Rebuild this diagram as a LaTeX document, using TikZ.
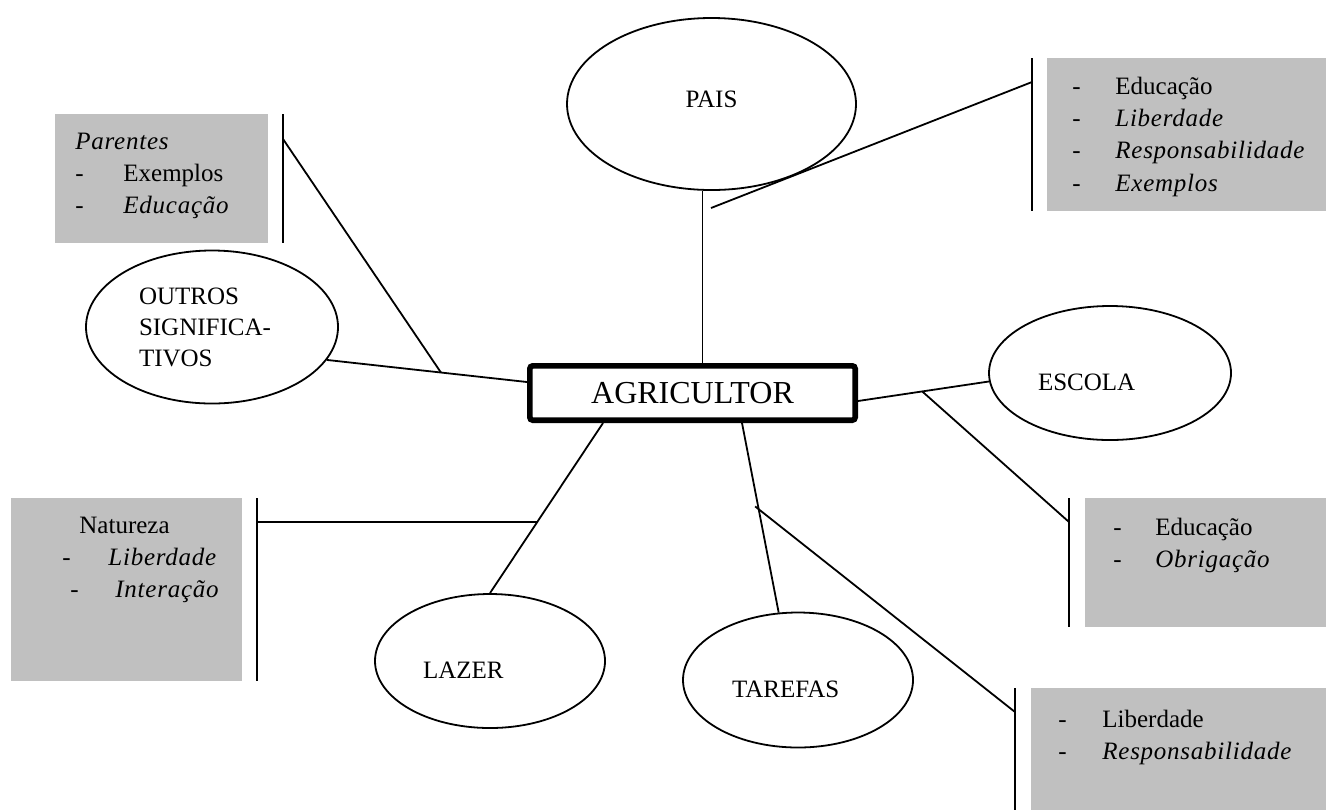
\documentclass[tikz,border=0pt]{standalone}
\usepackage{fontspec}
\setmainfont{Liberation Serif}
\usetikzlibrary{shapes.geometric}
\definecolor{boxgray}{RGB}{192,192,192}
\newcommand{\dashitem}[2][21.5pt]{\makebox[#1][l]{-}#2}
\newcommand{\itx}[1]{{\itshape\addfontfeature{LetterSpace=3}#1}}

\begin{document}
\begin{tikzpicture}[
    x=0.5pt, y=-0.5pt,
    % Define ellipse style
    bubble/.style={ellipse, draw, line width=0.9pt, inner sep=0pt, align=left, font=\fontsize{12.5}{15.5}\selectfont},
    % Define centre box style
    hub/.style={rectangle, draw, line width=2.8pt, rounded corners=1.5pt, minimum width=162.7pt, minimum height=27.2pt, inner sep=0pt, font=\fontsize{16}{19}\selectfont},
    % Define grey box style
    shade/.style={rectangle, fill=boxgray, inner sep=0pt, outer sep=0pt},
    % Define list text style
    notes/.style={anchor=base west, inner sep=0pt, text width=110pt, align=left, font=\fontsize{12.5}{16.2}\selectfont},
    % Define line style
    link/.style={line width=0.9pt}
]
\useasboundingbox (0,0) rectangle (1326,810);

    % Central block
    \node[hub] (agri) at (692.5,393) {AGRICULTOR};

    % Ellipses
    \node[bubble, minimum width=144.5pt, minimum height=86pt, text width=28pt, align=center, text height=8pt, text depth=5pt] (pais) at (711.5,104) {PAIS};
    \node[bubble, minimum width=126pt, minimum height=76.5pt, text width=73pt] (outros) at (212,327) {OUTROS\\SIGNIFICA-\\TIVOS};
    \node[bubble, minimum width=121pt, minimum height=67pt, text width=72pt, text height=17pt, text depth=0pt] (escola) at (1110,373) {ESCOLA};
    \node[bubble, minimum width=115pt, minimum height=67pt, text width=67pt, text height=17pt, text depth=0pt] (lazer) at (490,661) {LAZER};
    \node[bubble, minimum width=115pt, minimum height=67.5pt, text width=66pt, text height=17pt, text depth=0pt] (tarefas) at (798,680) {TAREFAS};

    % Grey boxes
    \node[shade, minimum width=139.5pt, minimum height=76.5pt] (paisbox) at (1186.5,134.5) {};
    \node[shade, minimum width=106.5pt, minimum height=64.5pt] (parbox) at (161.5,178.5) {};
    \node[shade, minimum width=115.5pt, minimum height=91.5pt] (natbox) at (126.5,589.5) {};
    \node[shade, minimum width=120.5pt, minimum height=64.5pt] (escbox) at (1205.5,562.5) {};
    \node[shade, minimum width=147.5pt, minimum height=61pt] (tarbox) at (1178.5,749) {};

    % Box texts
    \node[notes] (paistext) at (1072,94) {\dashitem{Educação}\\\dashitem{\itx{Liberdade}}\\\dashitem{\itx{Responsabilidade}}\\\dashitem{\itx{Exemplos}}};
    \node[notes] (partext) at (75,149) {\itx{Parentes}\\\dashitem[24pt]{Exemplos}\\\dashitem[24pt]{\itx{Educação}}};
    \node[notes] (nattext) at (62,533) {\hspace*{8.5pt}Natureza\\\dashitem[23pt]{\itx{Liberdade}}\\\hspace*{4pt}\dashitem[22.5pt]{\itx{Interação}}};
    \node[notes] (esctext) at (1113,535) {\dashitem[21pt]{Educação}\\\dashitem[21pt]{\itx{Obrigação}}};
    \node[notes] (tartext) at (1058,727) {\dashitem[22pt]{Liberdade}\\\dashitem[22pt]{\itx{Responsabilidade}}};

    % Bars beside the boxes
    \draw[link] ([xshift=-7.5pt]paisbox.north west) -- ([xshift=-7.5pt]paisbox.south west);
    \draw[link] ([xshift=7.5pt]parbox.north east) -- ([xshift=7.5pt]parbox.south east);
    \draw[link] ([xshift=7.5pt]natbox.north east) -- ([xshift=7.5pt]natbox.south east);
    \draw[link] ([xshift=-8pt]escbox.north west) -- ([xshift=-8pt]escbox.south west);
    \draw[link] ([xshift=-8pt]tarbox.north west) -- ([xshift=-8pt]tarbox.south west);

    % Points where the branches meet the bars
    \coordinate (paisend) at (1032,82);
    \coordinate (parend) at (283,139);
    \coordinate (natend) at (257,522);
    \coordinate (escend) at (1069,522);
    \coordinate (tarend) at (1015,712);
    \coordinate (paisfork) at (711,208);

    % Lines from the centre
    \draw[link] ([xshift=5pt]agri.north) -- ([xshift=5pt]agri.north |- pais.south);
    \draw[link] (paisfork) -- (paisend);

    \draw[link] (outros.-16) -- coordinate[pos=0.57] (outrosfork) ([yshift=5.5pt]agri.west);
    \draw[link] (outrosfork) -- (parend);

    \draw[link] ([yshift=-4pt]agri.east) -- coordinate[pos=0.49] (escfork) (escola.184);
    \draw[link] (escfork) -- (escend);

    \draw[link] ([xshift=-44.75pt]agri.south) -- coordinate[pos=0.58] (lazfork) (lazer.north);
    \draw[link] (lazfork) -- (lazfork -| natend);

    \draw[link] ([xshift=24.75pt]agri.south) -- coordinate[pos=0.44] (tarfork) (tarefas.106);
    \draw[link] ([xshift=-1.5pt]tarfork) -- (tarend);

\end{tikzpicture}
\end{document}
